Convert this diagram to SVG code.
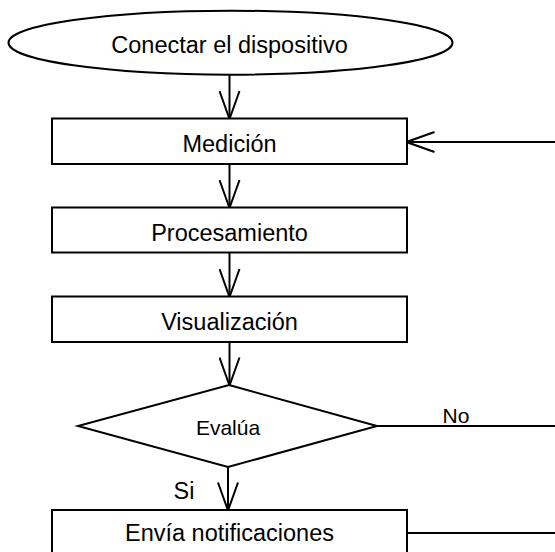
<svg xmlns="http://www.w3.org/2000/svg" width="555" height="552" viewBox="0 0 555 552">
<style>
.shape{fill:#fff;stroke:#000;stroke-width:2}
.lbl{font-family:"Liberation Sans",Arial,sans-serif;fill:#000;text-anchor:middle}
.big{font-size:23.5px}
.small{font-size:21px}
.conn{fill:none;stroke:#000;stroke-width:2}
</style>
<defs>
<marker id="arr" markerUnits="userSpaceOnUse" viewBox="-1 -1 30 22" markerWidth="30" markerHeight="22" refX="27.5" refY="10" orient="auto">
<path d="M0,0 L28,10 L0,20" fill="none" stroke="#000" stroke-width="2"/>
</marker>
</defs>
<rect width="555" height="552" fill="#fff"/>
<g id="connectors">
<path class="conn" d="M229.5,75 V118.5" marker-end="url(#arr)"/>
<path class="conn" d="M229.5,164 V207.5" marker-end="url(#arr)"/>
<path class="conn" d="M229.5,252.5 V296.5" marker-end="url(#arr)"/>
<path class="conn" d="M229.5,342 V385" marker-end="url(#arr)"/>
<path class="conn" d="M228,467 V510" marker-end="url(#arr)"/>
<path class="conn" d="M377,426 H565 V142 H407" marker-end="url(#arr)"/>
<path class="conn" d="M407,533 H565"/>
<text class="lbl small" x="456" y="423">No</text>
<text class="lbl big" x="184" y="499">Si</text>
</g>
<g id="start">
<ellipse class="shape" cx="230.5" cy="42.7" rx="222" ry="32"/>
<text class="lbl big" x="229.5" y="53">Conectar el dispositivo</text>
</g>
<g id="medicion">
<rect class="shape" x="52" y="118.5" width="355" height="45.5"/>
<text class="lbl big" x="229.5" y="152">Medición</text>
</g>
<g id="procesamiento">
<rect class="shape" x="52" y="207.5" width="355" height="45"/>
<text class="lbl big" x="229.5" y="241">Procesamiento</text>
</g>
<g id="visualizacion">
<rect class="shape" x="52" y="296.5" width="355" height="45.5"/>
<text class="lbl big" x="229.5" y="330">Visualización</text>
</g>
<g id="evalua">
<polygon class="shape" points="229,385 377,426 228,467 78,426"/>
<text class="lbl small" x="228" y="435">Evalúa</text>
</g>
<g id="envia">
<rect class="shape" x="52" y="510" width="355" height="46"/>
<text class="lbl big" x="229.5" y="541">Envía notificaciones</text>
</g>
</svg>
